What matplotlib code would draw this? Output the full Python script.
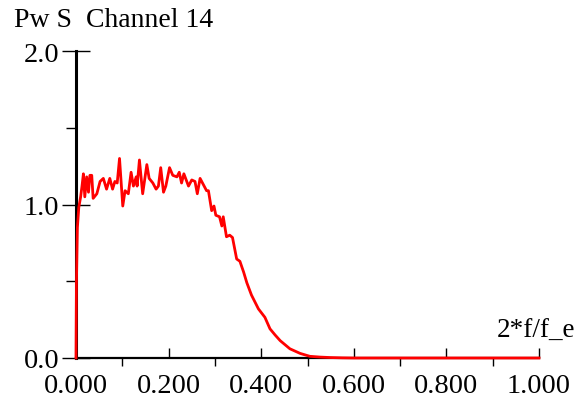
import matplotlib
matplotlib.use("Agg")
import matplotlib.pyplot as plt
from matplotlib.ticker import MultipleLocator, FixedLocator

freq = [0.0, 0.001, 0.003, 0.006, 0.010, 0.013, 0.016, 0.019, 0.023, 0.027, 0.030,
        0.034, 0.037, 0.045, 0.052, 0.059, 0.066, 0.073, 0.079, 0.084, 0.089,
        0.094, 0.101, 0.106, 0.113, 0.119, 0.124, 0.130, 0.132, 0.137, 0.144,
        0.153, 0.158, 0.166, 0.173, 0.178, 0.183, 0.189, 0.194, 0.202, 0.209,
        0.218, 0.223, 0.228, 0.233, 0.243, 0.250, 0.257, 0.262, 0.268, 0.275,
        0.282, 0.286, 0.293, 0.298, 0.302, 0.310, 0.315, 0.318, 0.325, 0.332,
        0.338, 0.347, 0.354, 0.362, 0.369, 0.379, 0.394, 0.408, 0.419, 0.430,
        0.441, 0.462, 0.484, 0.505, 0.527, 0.549, 0.575, 0.600, 0.700, 0.800,
        0.900, 1.000]
power = [0.0, 0.50, 0.85, 0.98, 1.05, 1.12, 1.20, 1.05, 1.18, 1.08, 1.19,
         1.19, 1.04, 1.07, 1.15, 1.17, 1.10, 1.17, 1.10, 1.15, 1.14,
         1.30, 0.99, 1.09, 1.07, 1.21, 1.12, 1.18, 1.12, 1.29, 1.07,
         1.26, 1.17, 1.14, 1.10, 1.12, 1.24, 1.08, 1.12, 1.24, 1.19,
         1.18, 1.21, 1.14, 1.20, 1.12, 1.16, 1.15, 1.07, 1.17, 1.13,
         1.09, 1.09, 0.96, 0.99, 0.93, 0.92, 0.86, 0.92, 0.79, 0.80,
         0.785, 0.645, 0.63, 0.56, 0.49, 0.41, 0.32, 0.265, 0.19, 0.15,
         0.113, 0.06, 0.03, 0.011, 0.006, 0.003, 0.001, 0.0, 0.0, 0.0,
         0.0, 0.0]

x_major = [0.0, 0.2, 0.4, 0.6, 0.8, 1.0]
x_labels = ["0.000", "0.200", "0.400", "0.600", "0.800", "1.000"]
y_major = [0.0, 1.0, 2.0]
y_labels = ["0.0", "1.0", "2.0"]

plt.rcParams['font.family'] = ['Liberation Serif', 'DejaVu Serif']

W, H = 587, 402
fig = plt.figure(figsize=(W / 100, H / 100), dpi=100)
ax = fig.add_axes([76 / W, (H - 359) / H, 463 / W, 307 / H])
ax.set_xlim(0, 1.0)
ax.set_ylim(0, 2.0)

ax.plot(freq, power, color='#ff0000', lw=2.0, zorder=3, clip_on=False)

for s in ['top', 'right']:
    ax.spines[s].set_visible(False)
ax.spines['left'].set_linewidth(2.2)
ax.spines['bottom'].set_linewidth(1.6)
ax.spines['left'].set_zorder(2)

ax.xaxis.set_major_locator(FixedLocator(x_major))
ax.set_xticklabels(x_labels)
ax.xaxis.set_minor_locator(MultipleLocator(0.1))
ax.yaxis.set_major_locator(FixedLocator(y_major))
ax.set_yticklabels(y_labels)
ax.yaxis.set_minor_locator(MultipleLocator(0.5))

ax.tick_params(axis='x', which='major', direction='in', length=7.5, width=1.0,
               labelsize=20.5, pad=11, colors='black')
ax.tick_params(axis='x', which='minor', direction='out', length=6, width=1.0)
ax.tick_params(axis='y', which='major', direction='inout', length=20, width=1.0,
               labelsize=20.5, pad=2)
ax.tick_params(axis='y', which='minor', direction='out', length=7.5, width=1.0)

fig.text(14 / W, 1 - 27 / H, "Pw S  Channel 14", fontsize=20, ha='left', va='baseline')
fig.text(575 / W, 1 - 338 / H, "2*f/f_e", fontsize=19.5, ha='right', va='baseline')

fig.savefig("out.png", dpi=100)
